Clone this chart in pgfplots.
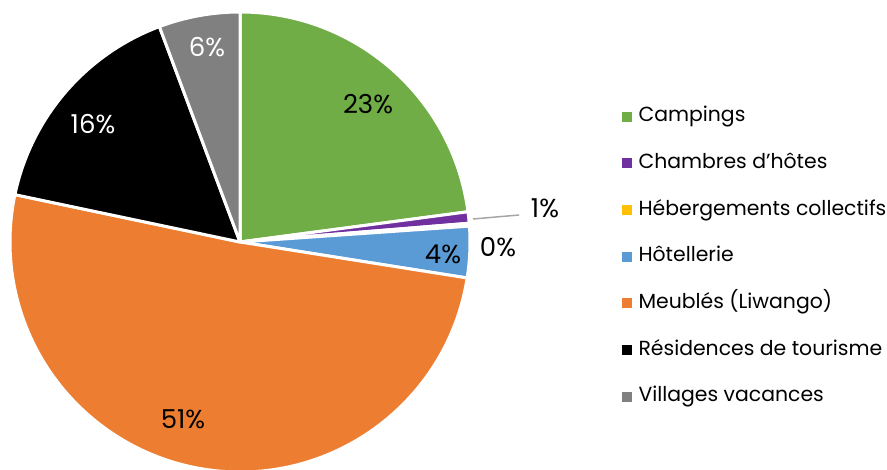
\documentclass[border=0pt]{standalone}
\usepackage{pgfplots}
\pgfplotsset{compat=1.18}
\usepackage{pgfplotstable}
\usepackage{fontspec}
\setmainfont{Poppins}

\definecolor{cCamp}{HTML}{70AD47}
\definecolor{cCham}{HTML}{7030A0}
\definecolor{cHeb}{HTML}{FFC000}
\definecolor{cHot}{HTML}{5B9BD5}
\definecolor{cMeu}{HTML}{ED7D31}
\definecolor{cRes}{HTML}{000000}
\definecolor{cVil}{HTML}{808080}
\definecolor{leader}{HTML}{A6A6A6}

% share (%), slice colour, label position (px, y up), label colour
\pgfplotstableread{
value color lx ly tc
22.9 cCamp 368 366 black
0.8  cCham 545 262 black
0.2  cHeb  498 223 black
3.6  cHot  443 216 black
50.8 cMeu  183 51  black
16.0 cRes  93  346 white
5.7  cVil  207 423 white
}\piedata

\newcommand{\sq}[1]{\addlegendimage{legend image code/.code={\fill[#1] (0bp,-4.5bp) rectangle (9bp,4.5bp);}}}

\begin{document}
\begin{tikzpicture}
\clip (0,0) rectangle (887bp,470bp);
\begin{axis}[
  at={(0,0)}, anchor=south west,
  x=1bp, y=1bp,
  xmin=0, xmax=887, ymin=0, ymax=470,
  hide axis,
  legend cell align=left,
  legend style={at={(0.7012,0.7755)}, anchor=north west, draw=none, fill=none,
    inner sep=0pt, row sep=25.7bp, column sep=7bp,
    nodes={inner sep=0pt, anchor=west, text height=16bp, text depth=5bp,
      font=\fontsize{20.4bp}{24bp}\selectfont}},
]
\sq{cCamp}\addlegendentry{Campings}
\sq{cCham}\addlegendentry{Chambres d'hôtes}
\sq{cHeb}\addlegendentry{Hébergements collectifs}
\sq{cHot}\addlegendentry{Hôtellerie}
\sq{cMeu}\addlegendentry{Meublés (Liwango)}
\sq{cRes}\addlegendentry{Résidences de tourisme}
\sq{cVil}\addlegendentry{Villages vacances}

\pgfplotsextra{
  \xdef\curang{90}
  \foreach \i in {0,...,6}{
    \pgfplotstablegetelem{\i}{value}\of\piedata \let\sliceVal\pgfplotsretval
    \pgfplotstablegetelem{\i}{color}\of\piedata \let\sliceCol\pgfplotsretval
    \pgfmathsetmacro\endang{\curang-3.6*\sliceVal}
    \fill[\sliceCol, draw=white, line width=3bp, line join=round]
      (axis cs:240,228) -- ([shift={(\curang:230bp)}]axis cs:240,228)
      arc[start angle=\curang, end angle=\endang, radius=230bp] -- cycle;
    \xdef\curang{\endang}
  }
  \draw[leader, line width=1.5bp] (axis cs:473,251) -- (axis cs:519,255);
  \foreach \i in {0,...,6}{
    \pgfplotstablegetelem{\i}{value}\of\piedata \let\sliceVal\pgfplotsretval
    \pgfplotstablegetelem{\i}{lx}\of\piedata \let\lx\pgfplotsretval
    \pgfplotstablegetelem{\i}{ly}\of\piedata \let\ly\pgfplotsretval
    \pgfplotstablegetelem{\i}{tc}\of\piedata \let\tc\pgfplotsretval
    \pgfmathtruncatemacro\pct{round(\sliceVal)}
    \node[text=\tc, font=\fontsize{26bp}{30bp}\selectfont, inner sep=0pt]
      at (axis cs:\lx,\ly) {\pct\%};
  }
}
\end{axis}
\end{tikzpicture}
\end{document}
